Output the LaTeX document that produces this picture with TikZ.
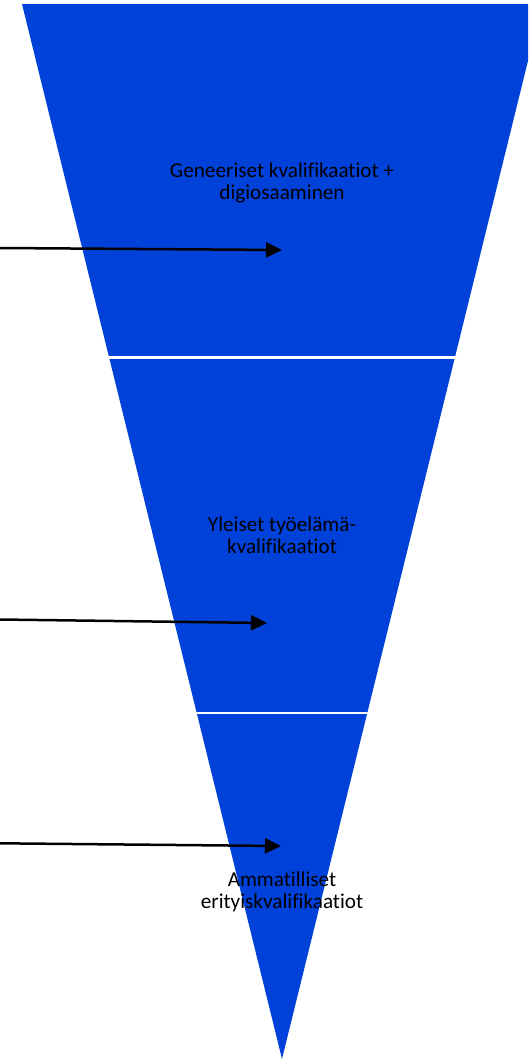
\documentclass[tikz,border=0pt]{standalone}
\usepackage{fontspec}
\setmainfont{Carlito}[Ligatures=NoCommon]
\usetikzlibrary{arrows.meta}
\definecolor{funnelblue}{RGB}{0,65,217}
\begin{document}
\begin{tikzpicture}[x=1pt,y=-1pt,
  label/.style={align=center,font=\fontsize{21.2}{22}\selectfont,text=black,inner sep=0pt},
  divider/.style={white,line width=2.5pt},
  pointer/.style={line width=2.5pt,-{Triangle[length=16pt,width=15pt]}}]
\useasboundingbox (0,0) rectangle (528,1060);
\begin{scope}
\clip (0,0) rectangle (528,1060);
\fill[funnelblue] (22,4) -- (542,4) -- (282,1059) -- cycle;
\end{scope}
\draw[divider] (105,357.5) -- (460,357.5);
\draw[divider] (190,713) -- (372,713);
\node[label] (n1) at (282,183) {Geneeriset kvalifikaatiot +\\digiosaaminen};
\node[label] (n2) at (282,535.5) {Yleiset työelämä-\\kvalifikaatiot};
\node[label] (n3) at (282,892) {Ammatilliset\\erityiskvalifikaatiot};
\coordinate (s1) at (0,248);
\coordinate (t1) at (282,250);
\coordinate (s2) at (0,619.5);
\coordinate (t2) at (267,623);
\coordinate (s3) at (0,843.3);
\coordinate (t3) at (281,846);
\draw[pointer] (s1) -- (t1);
\draw[pointer] (s2) -- (t2);
\draw[pointer] (s3) -- (t3);
\end{tikzpicture}
\end{document}
